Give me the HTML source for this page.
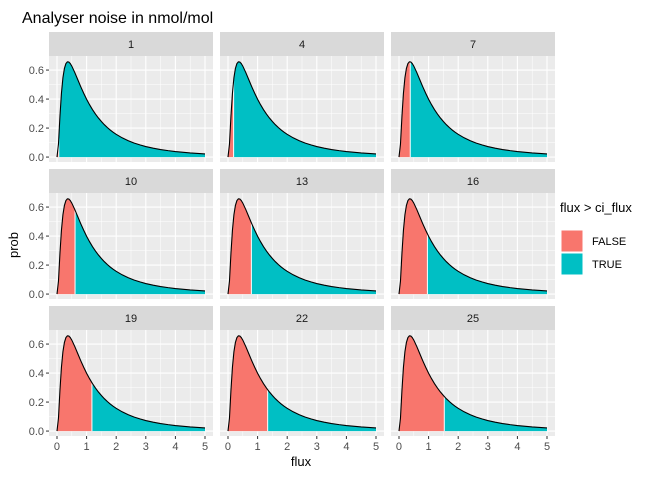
<!DOCTYPE html>
<html><head><meta charset="utf-8"><style>
html,body{margin:0;padding:0;background:#fff;}
svg{display:block;font-family:"Liberation Sans",sans-serif;}
</style></head><body>
<svg id="chart" width="672" height="480" viewBox="0 0 672 480" xmlns="http://www.w3.org/2000/svg">
<text x="22" y="23" font-size="16" fill="#000">Analyser noise in nmol/mol</text>
<text transform="translate(18,245) rotate(-90)" text-anchor="middle" font-size="13" fill="#000">prob</text>
<text x="301" y="466" text-anchor="middle" font-size="13" fill="#000">flux</text>
<g>
<text x="560" y="212" font-size="13" fill="#000">flux &gt; ci_flux</text>
<rect x="561" y="230" width="22" height="22" fill="#F8766D" stroke="#fff"/>
<text x="592" y="245" font-size="11" fill="#000">FALSE</text>
<rect x="561" y="253" width="22" height="22" fill="#00BFC4" stroke="#fff"/>
<text x="592" y="268" font-size="11" fill="#000">TRUE</text>
</g>
<g id="panels"></g>
</svg>
<script>
const panelLabels = ["1","4","7","10","13","16","19","22","25"];
const thresholds = [0.06,0.19,0.38,0.61,0.79,0.96,1.18,1.34,1.53];
const fluxX = [0,0.05,0.1,0.15,0.2,0.25,0.3,0.35,0.4,0.45,0.5,0.6,0.7,0.8,0.9,1.0,1.1,1.2,1.3,1.4,1.5,1.6,1.7,1.8,1.9,2.0,2.2,2.4,2.6,2.8,3.0,3.25,3.5,3.75,4.0,4.5,5.0];
const probY = [0,0.0898,0.2816,0.4399,0.5464,0.6104,0.6442,0.6569,0.6555,0.6445,0.6275,0.5836,0.5348,0.4864,0.4408,0.3989,0.3610,0.3270,0.2965,0.2693,0.2450,0.2233,0.2039,0.1865,0.1709,0.1569,0.1329,0.1133,0.0972,0.0839,0.0727,0.0613,0.0520,0.0444,0.0381,0.0286,0.0219];
const xTicks = [0,1,2,3,4,5];
const yTicks = [0,0.2,0.4,0.6];
const yTickLabels = ["0.0","0.2","0.4","0.6"];

const NS="http://www.w3.org/2000/svg";
const g=document.getElementById('panels');
const PW=164, PH=106, STRIP=24;
const colX=[49,220,391], rowY=[32,169,306];
const xMin=-0.27,xMax=5.27,yMin=-0.034,yMax=0.697;
function mk(t,a){const e=document.createElementNS(NS,t);for(const k in a)e.setAttribute(k,a[k]);return e;}
function interp(x){for(let i=1;i<fluxX.length;i++){if(x<=fluxX[i]){const t=(x-fluxX[i-1])/(fluxX[i]-fluxX[i-1]);return probY[i-1]+t*(probY[i]-probY[i-1]);}}return probY[probY.length-1];}
panelLabels.forEach((lab,i)=>{
  const c=i%3,r=Math.floor(i/3);
  const x0=colX[c], sy=rowY[r], y0=sy+STRIP;
  const sx=v=>x0+(v-xMin)/(xMax-xMin)*PW;
  const syf=v=>y0+PH-(v-yMin)/(yMax-yMin)*PH;
  const pg=mk('g',{});
  
  
  const strip=mk('rect',{x:x0,y:sy,width:PW,height:STRIP,fill:'#D9D9D9'});
  
  
  pg.appendChild(strip);
  const st=mk('text',{x:x0+PW/2,y:sy+16,'text-anchor':'middle','font-size':'11',fill:'#1A1A1A'});
  st.textContent=lab;
  
  
  pg.appendChild(st);
  const bg=mk('rect',{x:x0,y:y0,width:PW,height:PH,fill:'#EBEBEB'});
  
  
  pg.appendChild(bg);
  for(let v=0.5;v<5;v+=1){const l=mk('line',{x1:sx(v),x2:sx(v),y1:y0,y2:y0+PH,stroke:'#fff','stroke-width':0.5});pg.appendChild(l);}
  for(let k=0;k<yTicks.length-1;k++){const v=(yTicks[k]+yTicks[k+1])/2;const l=mk('line',{x1:x0,x2:x0+PW,y1:syf(v),y2:syf(v),stroke:'#fff','stroke-width':0.5});pg.appendChild(l);}
  xTicks.forEach(v=>{const l=mk('line',{x1:sx(v),x2:sx(v),y1:y0,y2:y0+PH,stroke:'#fff','stroke-width':1.1});pg.appendChild(l);});
  yTicks.forEach(v=>{const l=mk('line',{x1:x0,x2:x0+PW,y1:syf(v),y2:syf(v),stroke:'#fff','stroke-width':1.1});pg.appendChild(l);});
  const th=thresholds[i];
  const left=[[0,0]],right=[[th,0],[th,interp(th)]];
  fluxX.forEach((x,k)=>{if(x<th)left.push([x,probY[k]]);else right.push([x,probY[k]]);});
  left.push([th,interp(th)]);left.push([th,0]);
  right.push([fluxX[fluxX.length-1],0]);
  const toP=pts=>pts.map(p=>sx(p[0]).toFixed(2)+','+syf(p[1]).toFixed(2)).join(' ');
  const pf=mk('polygon',{points:toP(left),fill:'#F8766D'});
  
  
  pg.appendChild(pf);
  const pt=mk('polygon',{points:toP(right),fill:'#00BFC4'});
  
  
  pg.appendChild(pt);
  const sep=mk('line',{x1:sx(th),x2:sx(th),y1:syf(0),y2:syf(interp(th)),stroke:'#fff','stroke-width':1});
  
  
  pg.appendChild(sep);
  const curve=mk('polyline',{points:toP(fluxX.map((x,k)=>[x,probY[k]])),fill:'none',stroke:'#000','stroke-width':1.1});
  
  
  pg.appendChild(curve);
  if(c===0){yTicks.forEach((v,k)=>{
    const tk=mk('line',{x1:x0-3,x2:x0,y1:syf(v),y2:syf(v),stroke:'#333','stroke-width':1});pg.appendChild(tk);
    const t=mk('text',{x:x0-5,y:syf(v)+4,'text-anchor':'end','font-size':'11',fill:'#4D4D4D'});t.textContent=yTickLabels[k];pg.appendChild(t);});}
  if(r===2){xTicks.forEach(v=>{
    const tk=mk('line',{x1:sx(v),x2:sx(v),y1:y0+PH,y2:y0+PH+3,stroke:'#333','stroke-width':1});pg.appendChild(tk);
    const t=mk('text',{x:sx(v),y:y0+PH+14,'text-anchor':'middle','font-size':'11',fill:'#4D4D4D'});t.textContent=String(v);pg.appendChild(t);});}
  g.appendChild(pg);
});
</script>
</body></html>
